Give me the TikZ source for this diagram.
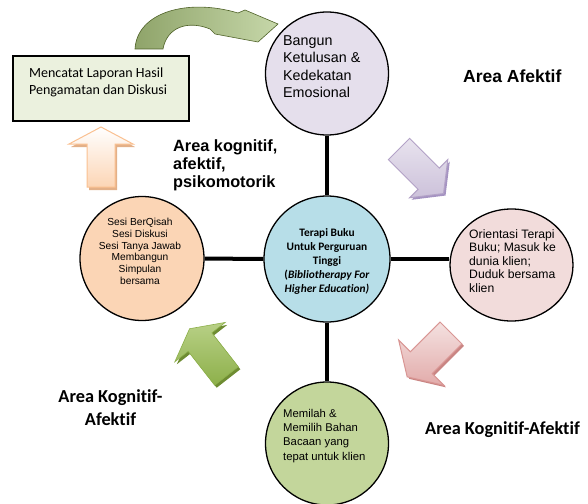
\documentclass[tikz,border=0pt]{standalone}
\usepackage{fontspec}
\setmainfont{Liberation Sans}
\newfontfamily\calibri[RawFeature={-liga}]{Carlito}
\usetikzlibrary{shapes.geometric}
\definecolor{rectfill}{HTML}{EBF1DE}
\definecolor{topfill}{HTML}{E5DFEC}
\definecolor{midfill}{HTML}{B7DEE8}
\definecolor{leftfill}{HTML}{FBD5B5}
\definecolor{rightfill}{HTML}{F2DCDB}
\definecolor{botfill}{HTML}{C3D69B}
\definecolor{peachline}{HTML}{FAC090}
\definecolor{peachfill}{HTML}{FCD5B5}
\definecolor{peachshadow}{HTML}{E3B088}
\definecolor{purpline}{HTML}{B3A2C7}
\definecolor{purptop}{HTML}{E8E3EE}
\definecolor{purpbot}{HTML}{CCC1DA}
\definecolor{purpshadow}{HTML}{A593C2}
\definecolor{pinkline}{HTML}{D99694}
\definecolor{pinktop}{HTML}{F4E1E0}
\definecolor{pinkbot}{HTML}{E2ABAA}
\definecolor{pinkshadow}{HTML}{C98583}
\definecolor{greentop}{HTML}{B8D086}
\definecolor{greenbot}{HTML}{8DB04A}
\definecolor{greenshadow}{HTML}{6E8C32}
\definecolor{sageleft}{HTML}{8FA46A}
\definecolor{sageright}{HTML}{C6D7A9}
\definecolor{sageline}{HTML}{4F6228}
\newcommand\blockarrow[7]{%
  \path[#7,shift={#1},rotate=#2] (0pt,#5pt) -- (#4pt,#5pt) -- (#4pt,#6pt) -- (#3pt,0pt)
    -- (#4pt,-#6pt) -- (#4pt,-#5pt) -- (0pt,-#5pt) -- cycle;}
\begin{document}
\begin{tikzpicture}[x=1pt,y=-1pt,
  bubble/.style={circle, draw=black, line width=1.3pt, minimum size=#1, inner sep=0pt},
  txt/.style={inner sep=0pt, anchor=north west, align=left},
  link/.style={line width=4pt, draw=black},
  lbl/.style={inner sep=0pt, font=\bfseries\fontsize{16.3}{18}\selectfont, anchor=north west, align=left},
  clbl/.style={inner sep=0pt, font=\calibri\bfseries\fontsize{18.3}{23}\selectfont}
]
\useasboundingbox (0,0) rectangle (588,503);

% curved arrow
\path[draw=sageline, line width=0.6pt, left color=sageleft, right color=sageright]
  (135,49) .. controls (137,12) and (188,-2) .. (238,13) -- (245,10) -- (278,24)
  -- (258,42) -- (215,34) -- (210,29) .. controls (188,20) and (167,27) .. (163,49) -- cycle;

% block arrows: shadows then bodies
\blockarrow{(103,190)}{90}{60}{43}{14}{32}{fill=peachshadow}
\blockarrow{(101,187)}{90}{60}{43}{14}{32}{draw=peachline, line width=1pt, top color=white, bottom color=peachfill}
\blockarrow{(401,151)}{-45}{63}{42}{15}{27}{fill=purpshadow}
\blockarrow{(399,149)}{-45}{63}{42}{15}{27}{draw=purpline, line width=1pt, top color=purptop, bottom color=purpbot}
\blockarrow{(453,335)}{-135}{62}{42}{15.5}{32}{fill=pinkshadow}
\blockarrow{(451,333)}{-135}{62}{42}{15.5}{32}{draw=pinkline, line width=1pt, top color=pinktop, bottom color=pinkbot}
\blockarrow{(228.5,378.5)}{128}{60}{43}{15}{32}{fill=greenshadow}
\blockarrow{(226.5,376)}{128}{60}{43}{15}{32}{draw=greenbot, line width=0.6pt, top color=greentop, bottom color=greenbot}

% rectangle
\node[draw=black, line width=1.3pt, fill=rectfill, minimum width=176pt, minimum height=65pt, inner sep=0pt] (rect) at (101,88.5) {};
\node[txt, font=\calibri\fontsize{14}{16.3}\selectfont] (recttxt) at (29,68) {Mencatat Laporan Hasil\\Pengamatan dan Diskusi};

% circles
\node[bubble=123pt, fill=topfill] (top) at (327,73.5) {};
\node[bubble=126pt, fill=midfill] (mid) at (327,259) {};
\node[bubble=124pt, fill=leftfill] (left) at (142,258.5) {};
\node[ellipse, draw=black, line width=1.3pt, minimum width=123pt, minimum height=112pt, inner sep=0pt, fill=rightfill] (right) at (511.5,265) {};
\node[bubble=123pt, fill=botfill] (bot) at (327,443.5) {};

% connectors
\draw[link] (top) -- (mid);
\draw[link] (left) -- (mid);
\draw[link] (mid.east) -- (mid.east -| right.west);
\draw[link] (mid) -- (bot);

% circle texts
\node[txt, font=\fontsize{14.3}{17.6}\selectfont] (toptxt) at (283,35) {Bangun\\Ketulusan \&\\Kedekatan\\Emosional};
\node[txt, font=\fontsize{12.2}{13.4}\selectfont] (righttxt) at (469,229.5) {Orientasi Terapi\\Buku; Masuk ke\\dunia klien;\\Duduk bersama\\klien};
\node[txt, font=\fontsize{11.3}{14.3}\selectfont] (bottxt) at (283,409) {Memilah \&\\Memilih Bahan\\Bacaan yang\\tepat untuk klien};
\node[inner sep=0pt, anchor=north, align=center, font=\fontsize{10.2}{11.8}\selectfont] (lefttxt) at (140,218) {Sesi BerQisah\\Sesi Diskusi\\Sesi Tanya Jawab\\Membangun\\Simpulan\\bersama};
\node[inner sep=0pt, anchor=north, align=center, font=\calibri\bfseries\fontsize{11.4}{14}\selectfont] (midtxt) at (327,228) {Terapi Buku\\Untuk Perguruan\\Tinggi\\(\textit{Bibliotherapy For}\\\textit{Higher Education)}};

% area labels
\node[lbl] (areaall) at (173,139) {Area kognitif,\\afektif,\\psikomotorik};
\node[lbl, font=\bfseries\fontsize{17.5}{20}\selectfont] (areaaf) at (463,70) {Area Afektif};
\node[clbl, anchor=north west] (areakaright) at (425,421) {Area Kognitif-Afektif};
\node[clbl, anchor=north, align=center] (areakaleft) at (110.5,389) {Area Kognitif-\\Afektif};
\end{tikzpicture}
\end{document}
